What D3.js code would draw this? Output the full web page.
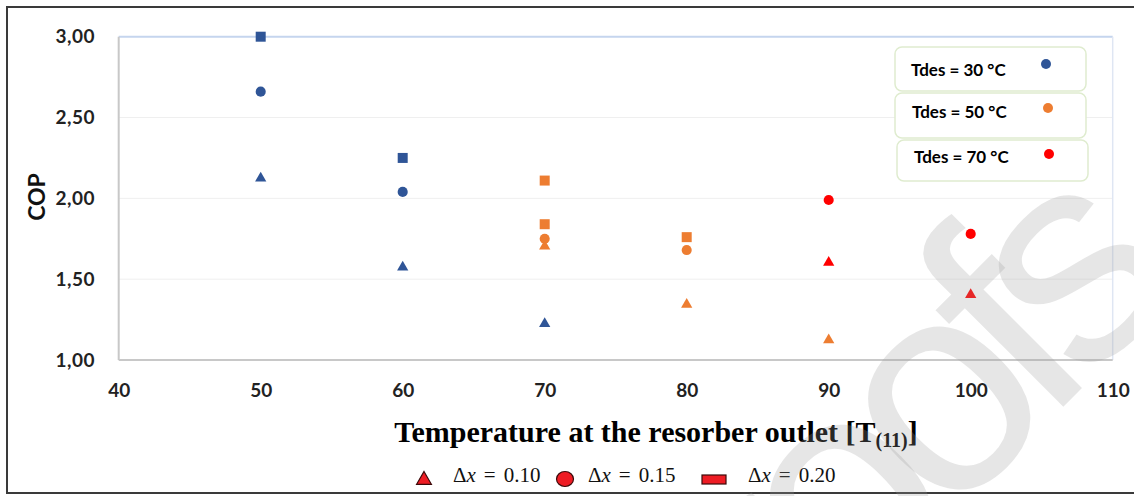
<!DOCTYPE html>
<html>
<head>
<meta charset="utf-8">
<script src="https://cdn.jsdelivr.net/npm/d3@7"></script>
<style>
  html, body { margin: 0; padding: 0; background: #fff; }
  svg { display: block; }
</style>
</head>
<body>
<svg id="chart" width="1134" height="496"></svg>
<script>
// COP vs. resorber outlet temperature, grouped by desorber temperature (colour)
// and concentration difference Δx (marker shape).
const xTicks = [40, 50, 60, 70, 80, 90, 100, 110];
const yTicks = [1.0, 1.5, 2.0, 2.5, 3.0];

const tdes30_dx010 = [[50, 2.13], [60, 1.58], [70, 1.23]];
const tdes30_dx015 = [[50, 2.66], [60, 2.04]];
const tdes30_dx020 = [[50, 3.00], [60, 2.25]];

const tdes50_dx010 = [[70, 1.71], [80, 1.35], [90, 1.13]];
const tdes50_dx015 = [[70, 1.75], [80, 1.68]];
const tdes50_dx020 = [[70, 2.11], [70, 1.84], [80, 1.76]];

const tdes70_dx010 = [[90, 1.61], [100, 1.41]];
const tdes70_dx015 = [[90, 1.99], [100, 1.78]];

const tdesLabels = ["Tdes = 30 °C", "Tdes = 50 °C", "Tdes = 70 °C"];
const tdesColors = ["#2F5597", "#ED7D31", "#FF0000"];
const dxLabels = ["0.10", "0.15", "0.20"];

const groups = [
  { pts: tdes30_dx010, color: 0, shape: "triangle" },
  { pts: tdes30_dx015, color: 0, shape: "circle" },
  { pts: tdes30_dx020, color: 0, shape: "square" },
  { pts: tdes50_dx010, color: 1, shape: "triangle" },
  { pts: tdes50_dx015, color: 1, shape: "circle" },
  { pts: tdes50_dx020, color: 1, shape: "square" },
  { pts: tdes70_dx010, color: 2, shape: "triangle" },
  { pts: tdes70_dx015, color: 2, shape: "circle" }
];

const svg = d3.select("#chart");
const W = 1134, H = 496;
const plot = { left: 118.7, right: 1112.7, top: 36.7, bottom: 360 };

const x = d3.scaleLinear().domain([40, 110]).range([plot.left, plot.right]);
const y = d3.scaleLinear().domain([1, 3]).range([plot.bottom, plot.top]);

const tickFont = "Lato, 'Open Sans', sans-serif";

// outer frame
svg.append("rect")
  .attr("x", 7).attr("y", 7).attr("width", W + 10).attr("height", 486)
  .attr("fill", "none").attr("stroke", "#3a3a3a").attr("stroke-width", 2);

// horizontal gridlines
svg.append("g")
  .selectAll("line")
  .data(yTicks.filter(v => v > 1 && v < 3))
  .join("line")
  .attr("x1", plot.left).attr("x2", plot.right)
  .attr("y1", d => y(d)).attr("y2", d => y(d))
  .attr("stroke", "#efefef").attr("stroke-width", 1);

// plot border: top/right light blue, left/bottom grey
svg.append("line")
  .attr("x1", plot.left).attr("x2", plot.right)
  .attr("y1", y(3)).attr("y2", y(3))
  .attr("stroke", "#c5d5ee").attr("stroke-width", 2);
svg.append("line")
  .attr("x1", plot.right).attr("x2", plot.right)
  .attr("y1", y(3)).attr("y2", y(1))
  .attr("stroke", "#dfe6f3").attr("stroke-width", 1.5);
svg.append("line")
  .attr("x1", plot.left).attr("x2", plot.left)
  .attr("y1", y(3)).attr("y2", y(1))
  .attr("stroke", "#c8c8c8").attr("stroke-width", 2);
svg.append("line")
  .attr("x1", plot.left).attr("x2", plot.right)
  .attr("y1", y(1)).attr("y2", y(1))
  .attr("stroke", "#c8c8c8").attr("stroke-width", 2);

// x axis labels
const xAxis = d3.axisBottom(x).tickValues(xTicks).tickSize(0).tickPadding(0)
  .tickFormat(d3.format("d"));
const gx = svg.append("g").attr("transform", `translate(0, ${plot.bottom + 30})`).call(xAxis);
gx.select(".domain").remove();
gx.selectAll("text")
  .attr("dy", "0.35em")
  .attr("font-family", tickFont).attr("font-weight", 700).attr("font-size", 19)
  .attr("fill", "#222");

// y axis labels
const yAxis = d3.axisLeft(y).tickValues(yTicks).tickSize(0).tickPadding(0)
  .tickFormat(d => d3.format(".2f")(d).replace(".", ","));
const gy = svg.append("g").attr("transform", "translate(95, 0)").call(yAxis);
gy.select(".domain").remove();
gy.selectAll("text")
  .attr("font-family", tickFont).attr("font-weight", 700).attr("font-size", 19)
  .attr("letter-spacing", 0.5)
  .attr("fill", "#222");

// axis titles
svg.append("text")
  .attr("transform", "translate(45, 197) rotate(-90)")
  .attr("text-anchor", "middle")
  .attr("font-family", tickFont).attr("font-weight", 700).attr("font-size", 23)
  .attr("fill", "#111")
  .text("COP");

const xt = svg.append("text")
  .attr("x", 656).attr("y", 442)
  .attr("text-anchor", "middle")
  .attr("font-family", "'Liberation Serif', 'Times New Roman', serif")
  .attr("font-weight", 700).attr("font-size", 30)
  .attr("fill", "#000");
xt.append("tspan").text("Temperature at the resorber outlet [T");
xt.append("tspan").attr("font-size", 20).attr("dy", 5).text("(11)");
xt.append("tspan").attr("dy", -5).text("]");

// marker generators
const symbolFor = {
  triangle: d3.symbol().type(d3.symbolTriangle).size(55),
  circle: d3.symbol().type(d3.symbolCircle).size(80),
  square: d3.symbol().type(d3.symbolSquare).size(100)
};

const gm = svg.append("g");
groups.forEach(g => {
  gm.selectAll(null)
    .data(g.pts)
    .join("path")
    .attr("d", symbolFor[g.shape]())
    .attr("transform", d => `translate(${x(d[0])}, ${y(d[1]) + (g.shape === "triangle" ? 1 : 0)})`)
    .attr("fill", tdesColors[g.color]);
});

// colour legend (Tdes)
const boxes = [
  { y0: 47, y1: 91, tx: 911, ty: 76, dx: 1046, dy: 64 },
  { y0: 93, y1: 138, tx: 912, ty: 118, dx: 1048, dy: 108 },
  { y0: 140, y1: 181, tx: 914, ty: 163, dx: 1049, dy: 154 }
];
const lg = svg.append("g");
tdesLabels.forEach((lab, i) => {
  const b = boxes[i];
  lg.append("rect")
    .attr("x", 895 + (i === 2 ? 2 : 0)).attr("y", b.y0)
    .attr("width", 191).attr("height", b.y1 - b.y0)
    .attr("rx", 7)
    .attr("fill", "#fff").attr("stroke", "#dfeccf").attr("stroke-width", 1.5);
  lg.append("text")
    .attr("x", b.tx).attr("y", b.ty)
    .attr("font-family", tickFont).attr("font-weight", 700).attr("font-size", 17)
    .attr("fill", "#000")
    .text(lab);
  lg.append("circle")
    .attr("cx", b.dx).attr("cy", b.dy).attr("r", 5)
    .attr("fill", tdesColors[i]);
});

// shape legend (Δx)
const sl = svg.append("g");
const shapeItems = [
  { shape: "triangle", mx: 424, tx: 453 },
  { shape: "circle", mx: 565, tx: 588 },
  { shape: "square", mx: 714, tx: 748 }
];
shapeItems.forEach((it, i) => {
  let m;
  if (it.shape === "triangle") {
    m = sl.append("path").attr("d", d3.symbol().type(d3.symbolTriangle).size(95)())
      .attr("transform", `translate(${it.mx}, 480)`);
  } else if (it.shape === "circle") {
    m = sl.append("ellipse").attr("cx", it.mx).attr("cy", 479).attr("rx", 8.5).attr("ry", 7.5);
  } else {
    m = sl.append("rect").attr("x", it.mx - 12).attr("y", 475).attr("width", 24).attr("height", 9);
  }
  m.attr("fill", "#ee1c24").attr("stroke", "#3b0a0a").attr("stroke-width", 1.2);

  const t = sl.append("text")
    .attr("x", it.tx).attr("y", 482)
    .attr("font-family", "'Liberation Serif', 'DejaVu Serif', serif")
    .attr("font-size", 21).attr("fill", "#111");
  t.append("tspan").text("Δ");
  t.append("tspan").attr("font-style", "italic").text("x");
  t.append("tspan").attr("dx", 8).text("=");
  t.append("tspan").attr("dx", 8).text(dxLabels[i]);
});

// watermark
svg.append("text")
  .attr("transform", "translate(1170, 300) rotate(-45)")
  .attr("text-anchor", "end")
  .attr("font-family", "'Liberation Sans', Arial, sans-serif")
  .attr("font-size", 300)
  .attr("letter-spacing", -28)
  .attr("fill", "#9a9a9a").attr("fill-opacity", 0.25)
  .text("Proofs");
</script>
</body>
</html>
